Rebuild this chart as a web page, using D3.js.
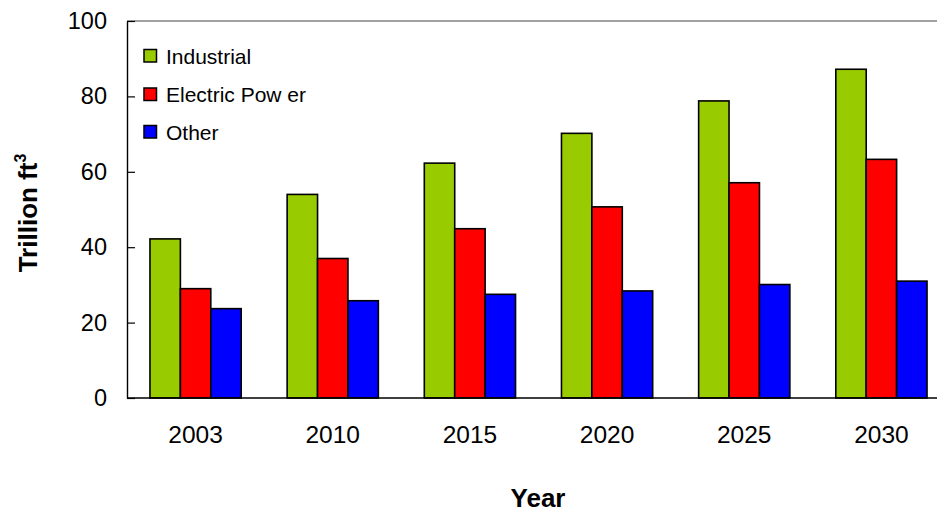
<!DOCTYPE html>
<html>
<head>
<meta charset="utf-8">
<script src="https://cdn.jsdelivr.net/npm/d3@7/dist/d3.min.js"></script>
<style>
  html, body { margin: 0; padding: 0; background: #fff; }
  svg { display: block; font-family: "Liberation Sans", Arial, sans-serif; }
</style>
</head>
<body>
<svg id="chart" width="937" height="515"></svg>
<script>
// Natural gas consumption by sector, trillion cubic feet
const years = ["2003", "2010", "2015", "2020", "2025", "2030"];
const seriesNames = ["Industrial", "Electric Pow er", "Other"];
const industrial = [42.2, 54.0, 62.3, 70.2, 78.8, 87.2];
const electricPower = [29.0, 37.0, 44.9, 50.7, 57.1, 63.3];
const other = [23.7, 25.8, 27.5, 28.4, 30.1, 31.0];
const yTicks = [0, 20, 40, 60, 80, 100];
const colors = ["#99CC00", "#FF0000", "#0000FF"];

const seriesValues = [industrial, electricPower, other];

const svg = d3.select("#chart");
const plotLeft = 127, plotRight = 950, plotTop = 21, plotBottom = 398;

const y = d3.scaleLinear().domain([0, 100]).range([plotBottom, plotTop]);

const x0 = d3.scaleBand()
  .domain(years)
  .range([plotLeft, plotRight])
  .paddingInner(0.335)
  .paddingOuter(0.1675);

const x1 = d3.scaleBand()
  .domain(seriesNames)
  .range([0, x0.bandwidth()]);

// plot frame: top edge
svg.append("line")
  .attr("x1", plotLeft).attr("x2", 937)
  .attr("y1", y(100)).attr("y2", y(100))
  .attr("stroke", "#444").attr("stroke-width", 1.2);

// bars
const groups = svg.append("g").selectAll("g")
  .data(years)
  .join("g")
  .attr("transform", d => `translate(${x0(d)},0)`);

groups.selectAll("rect")
  .data((d, i) => seriesNames.map((s, j) => ({ s, j, v: seriesValues[j][i] })))
  .join("rect")
  .attr("x", d => x1(d.s))
  .attr("width", x1.bandwidth())
  .attr("y", d => y(d.v))
  .attr("height", d => y(0) - y(d.v))
  .attr("fill", d => colors[d.j])
  .attr("stroke", "#000")
  .attr("stroke-width", 1.6);

// y axis
const yAxis = d3.axisLeft(y)
  .tickValues(yTicks)
  .tickSizeInner(-8)
  .tickSizeOuter(0)
  .tickPadding(20);

const gy = svg.append("g")
  .attr("transform", `translate(${plotLeft},0)`)
  .call(yAxis);
gy.select(".domain").attr("stroke", "#000").attr("stroke-width", 1.4);
gy.selectAll(".tick line").attr("stroke", "#000").attr("stroke-width", 1.2);
gy.selectAll(".tick text")
  .attr("font-size", 23.5)
  .attr("font-family", "Liberation Sans, Arial, sans-serif")
  .attr("fill", "#000");

// x axis baseline
svg.append("line")
  .attr("x1", plotLeft).attr("x2", 937)
  .attr("y1", y(0)).attr("y2", y(0))
  .attr("stroke", "#000").attr("stroke-width", 1.6);

// x labels
svg.append("g").selectAll("text")
  .data(years)
  .join("text")
  .attr("x", d => x0(d) + x0.bandwidth() / 2)
  .attr("y", 443)
  .attr("text-anchor", "middle")
  .attr("font-size", 24.5)
  .attr("fill", "#000")
  .text(d => d);

// axis titles
svg.append("text")
  .attr("x", 538).attr("y", 507)
  .attr("text-anchor", "middle")
  .attr("font-size", 26)
  .attr("font-weight", "bold")
  .text("Year");

const yt = svg.append("text")
  .attr("transform", "translate(37,213) rotate(-90)")
  .attr("text-anchor", "middle")
  .attr("font-size", 26)
  .attr("font-weight", "bold");
yt.append("tspan").text("Trillion ft");
yt.append("tspan").attr("font-size", 16).attr("dy", -11).text("3");

// legend
const legendRows = [56, 94.5, 132];
const legend = svg.append("g").selectAll("g")
  .data(seriesNames)
  .join("g")
  .attr("transform", (d, i) => `translate(144,${legendRows[i]})`);
legend.append("rect")
  .attr("x", 0).attr("y", -6.5)
  .attr("width", 12.5).attr("height", 12.5)
  .attr("fill", (d, i) => colors[i])
  .attr("stroke", "#000").attr("stroke-width", 1.5);
legend.append("text")
  .attr("x", 22).attr("y", 7.5)
  .attr("font-size", 21)
  .attr("fill", "#000")
  .text(d => d);
</script>
</body>
</html>
